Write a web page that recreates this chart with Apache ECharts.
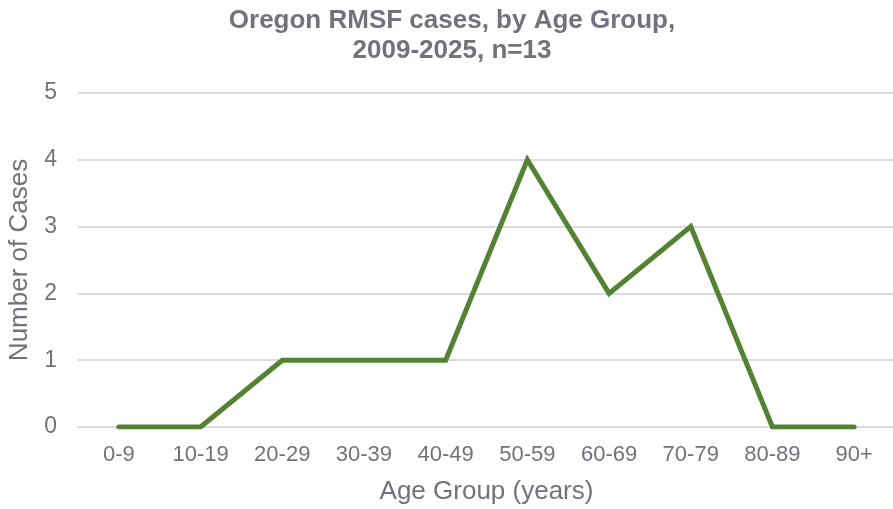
<!DOCTYPE html>
<html><head><meta charset="utf-8">
<script src="https://cdn.jsdelivr.net/npm/echarts@6/dist/echarts.min.js"></script>
<style>html,body{margin:0;padding:0;background:#fff}#c{width:893px;height:509px}</style>
</head><body><div id="c"></div>
<script>
const categories = ['0-9','10-19','20-29','30-39','40-49','50-59','60-69','70-79','80-89','90+'];
const cases = [0,0,1,1,1,4,2,3,0,0];
const yTicks = [0,1,2,3,4,5];
const chart = echarts.init(document.getElementById('c'));
const txt = '#75707b';
const font = 'Liberation Sans, Arial, sans-serif';
chart.setOption({
  animation:false,
  title:{text:'Oregon RMSF cases, by Age Group,\n2009-2025, n=13',left:447,textAlign:'center',top:1,
    textStyle:{color:txt,fontSize:26,fontWeight:'bold',fontFamily:font,lineHeight:30}},
  grid:{left:78,width:817,top:93,height:334,outerBoundsMode:'none',containLabel:false},
  xAxis:{type:'category',data:categories,boundaryGap:true,
    axisLine:{show:true,lineStyle:{color:'#dcdae0',width:2}},axisTick:{show:false},
    axisLabel:{color:txt,fontSize:22,fontFamily:font,margin:17,interval:0},
    name:'Age Group (years)',nameLocation:'middle',nameGap:52,
    nameTextStyle:{color:txt,fontSize:26,fontFamily:font}},
  yAxis:{type:'value',min:yTicks[0],max:yTicks[yTicks.length-1],interval:1,
    axisLine:{show:false},axisTick:{show:false},
    splitLine:{lineStyle:{color:'#dcdae0',width:2}},
    axisLabel:{color:txt,fontSize:23,fontFamily:font,margin:21},
    name:'Number of Cases',nameLocation:'middle',nameGap:43,
    nameTextStyle:{color:txt,fontSize:26,fontFamily:font}},
  series:[{type:'line',data:cases,symbol:'none',
    lineStyle:{color:'#548235',width:5,cap:'round',join:'miter'}}]
});
</script></body></html>
